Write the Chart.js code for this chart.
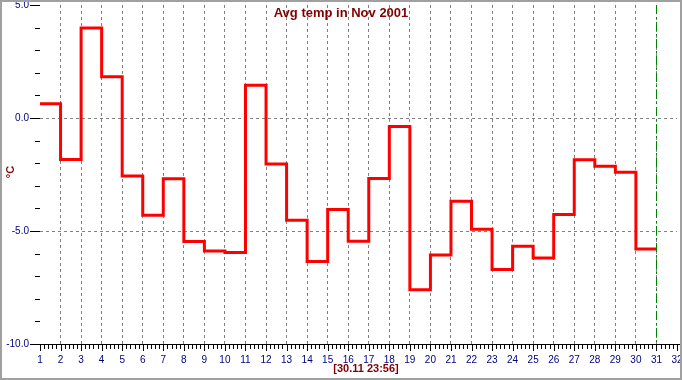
<!DOCTYPE html>
<html>
<head>
<meta charset="utf-8">
<script src="https://cdn.jsdelivr.net/npm/chart.js@4/dist/chart.umd.min.js"></script>
<style>
  body { margin: 0; background: #fff; }
  canvas { display: block; }
</style>
</head>
<body>
<canvas id="myChart" width="682" height="380"></canvas>
<script>
// daily averages
const days = [1, 2, 3, 4, 5, 6, 7, 8, 9, 10, 11, 12, 13, 14, 15,
              16, 17, 18, 19, 20, 21, 22, 23, 24, 25, 26, 27, 28, 29, 30];
const avgTemp = [0.63, -1.84, 3.98, 1.83, -2.57, -4.30, -2.69, -5.47, -5.88, -5.95,
                 1.45, -2.04, -4.52, -6.35, -4.05, -5.45, -2.68, -0.38, -7.60, -6.06,
                 -3.68, -4.92, -6.70, -5.67, -6.20, -4.27, -1.85, -2.13, -2.40, -5.80];
const yTicks = [-10, -5, 0, 5];
const nowMarker = 31; // green line = end of month
const chartTitle = 'Avg temp in Nov 2001';
const timeLabel = '[30.11 23:56]';
const unitLabel = '°C';

const smallFont = "'Liberation Sans Narrow', 'Arial Narrow', Arial, sans-serif";

// step line: each day runs to the next one, last day is closed at day 31
const points = days.map((d, i) => ({ x: d, y: avgTemp[i] }));
points.push({ x: days[days.length - 1] + 1, y: avgTemp[avgTemp.length - 1] });

// axes lines, minor ticks, labels and border are drawn here
const extras = {
  id: 'extras',
  afterDraw(chart) {
    const ctx = chart.ctx;
    const a = chart.chartArea;
    const xs = chart.scales.x;
    const ys = chart.scales.y;
    const px = v => Math.round(v) + 0.5;
    ctx.save();

    // green marker line
    ctx.strokeStyle = '#008000';
    ctx.lineWidth = 1;
    ctx.setLineDash([9, 3, 2, 3]);
    ctx.beginPath();
    ctx.moveTo(px(xs.getPixelForValue(nowMarker)), a.top);
    ctx.lineTo(px(xs.getPixelForValue(nowMarker)), a.bottom);
    ctx.stroke();
    ctx.setLineDash([]);

    // x axis line and ticks
    ctx.strokeStyle = '#000';
    ctx.beginPath();
    ctx.moveTo(30, px(a.bottom));
    ctx.lineTo(680, px(a.bottom));
    for (let v = 1; v <= 32.001; v += 0.2) {
      const x = px(xs.getPixelForValue(v));
      const major = Math.abs(v - Math.round(v)) < 0.01;
      ctx.moveTo(x, a.bottom);
      ctx.lineTo(x, a.bottom + (major ? 7 : 5));
    }
    // y ticks
    for (let v = -10; v <= 5; v++) {
      const y = px(ys.getPixelForValue(v));
      const major = v % 5 === 0;
      ctx.moveTo(major ? 30 : 35, y);
      ctx.lineTo(a.left, y);
    }
    ctx.stroke();

    // title
    ctx.fillStyle = '#800000';
    ctx.font = 'bold 13px Arial, sans-serif';
    ctx.textAlign = 'center';
    ctx.textBaseline = 'middle';
    ctx.fillText(chartTitle, 341, 13);

    // time label under the axis
    ctx.font = 'bold 11px Arial, sans-serif';
    ctx.fillText(timeLabel, 366, 369);

    // unit
    ctx.save();
    ctx.translate(11, 172);
    ctx.rotate(-Math.PI / 2);
    ctx.font = 'bold 11px Arial, sans-serif';
    ctx.fillText(unitLabel, 0, 0);
    ctx.restore();

    // frame
    ctx.strokeStyle = '#a0a0a0';
    ctx.lineWidth = 2;
    ctx.strokeRect(1, 1, chart.width - 2, chart.height - 2);
    ctx.restore();
  }
};

const data = {
  datasets: [{
    label: 'Avg temp',
    data: points,
    borderColor: '#ff0000',
    backgroundColor: '#ff0000',
    borderWidth: 3,
    stepped: true,
    pointRadius: 0,
    fill: false,
    borderCapStyle: 'butt',
    borderJoinStyle: 'miter'
  }]
};

const config = {
  type: 'line',
  data: data,
  options: {
    responsive: false,
    animation: false,
    devicePixelRatio: 1,
    layout: { padding: { top: 5, right: 5, left: 0, bottom: 0 } },
    plugins: { legend: { display: false }, title: { display: false }, tooltip: { enabled: false } },
    scales: {
      x: {
        type: 'linear',
        min: 1,
        max: 32,
        afterFit: s => { s.height = 36; s.paddingLeft = 0; s.paddingRight = 0; },
        ticks: {
          stepSize: 1,
          autoSkip: false,
          maxRotation: 0,
          padding: 10,
          color: '#000080',
          font: { family: smallFont, size: 10 }
        },
        grid: {
          drawTicks: false,
          color: c => (c.tick && (c.tick.value === 1 || c.tick.value === 32)) ? 'rgba(0,0,0,0)' : '#808080'
        },
        border: { display: false, dash: [3, 3] }
      },
      y: {
        min: -10,
        max: 5,
        afterBuildTicks: s => { s.ticks = yTicks.map(v => ({ value: v })); },
        afterFit: s => { s.width = 40; s.paddingTop = 0; s.paddingBottom = 0; },
        ticks: {
          padding: 11,
          color: '#000080',
          font: { family: smallFont, size: 10 },
          callback: v => v.toFixed(1)
        },
        grid: {
          drawTicks: false,
          color: c => (c.tick && (c.tick.value === -10 || c.tick.value === 5)) ? 'rgba(0,0,0,0)' : '#808080'
        },
        border: { display: false, dash: [3, 3] }
      }
    }
  },
  plugins: [extras]
};

const myChart = new Chart(document.getElementById('myChart'), config);
</script>
</body>
</html>
